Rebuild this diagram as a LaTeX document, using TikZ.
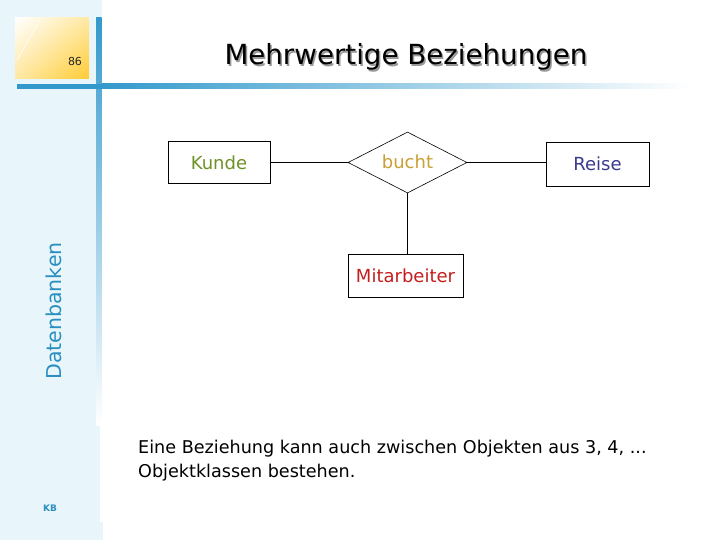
\documentclass[tikz,border=0pt]{standalone}
\usepackage{fontspec}
\setmainfont{DejaVu Sans}
\usetikzlibrary{shapes.geometric,shadings}
\definecolor{panel}{HTML}{E8F6FC}
\definecolor{barblue}{HTML}{3399CC}
\definecolor{teal}{HTML}{2A8FC0}
\definecolor{kgreen}{HTML}{6E9225}
\definecolor{bgold}{HTML}{C9A035}
\definecolor{rblue}{HTML}{3B3B8E}
\definecolor{mred}{HTML}{C41E1E}
\definecolor{gold}{HTML}{FFCC33}
\tikzset{
  entity/.style={draw=black, line width=0.8pt, minimum height=42pt, inner sep=0pt, font=\fontsize{18}{21}\selectfont},
  rel/.style={draw=black, line width=0.6pt, shape=diamond, inner sep=0pt, minimum width=119pt, minimum height=61pt, aspect=1.95, font=\fontsize{18}{21}\selectfont},
  conn/.style={line width=0.7pt, draw=black},
  body/.style={anchor=base west, inner sep=0pt, font=\fontsize{17.6}{20}\selectfont}
}
\begin{document}
\begin{tikzpicture}[x=1pt,y=-1pt]
\useasboundingbox (0,0) rectangle (720,540);
\fill[white] (0,0) rectangle (720,540);
% left panel
\fill[panel] (0,0) rectangle (100,540);
\fill[panel] (0,522) rectangle (103,540);
\fill[panel] (96,0) rectangle (102,18);
% yellow square
\shade[upper left=white, lower right=gold, upper right=gold!45!white, lower left=gold!45!white] (15,18) rectangle (89,79);
\draw[white, line width=0.6pt] (17,60) -- (40,20);
% bars
\shade[top color=barblue, bottom color=white] (96,18) rectangle (101.5,425);
\fill[barblue] (17,84) rectangle (101.5,89);
\shade[left color=barblue, right color=white] (101.5,84) rectangle (690,89);
% side texts
\node[inner sep=0pt, font=\fontsize{11}{12}\selectfont, text=black!85] (num) at (75,61) {86};
\node[inner sep=0pt, rotate=90, text=teal, font=\fontsize{20.5}{23}\selectfont] (dbk) at (54,311) {Datenbanken};
\node[inner sep=0pt, text=teal, font=\bfseries\fontsize{9}{10}\selectfont] (kb) at (50,508) {KB};
% title
\node[inner sep=0pt, text=black!40] (titleshadow) at (407.5,58.5) {\resizebox{363pt}{!}{Mehrwertige Beziehungen}};
\node[inner sep=0pt, text=black] (title) at (406,57) {\resizebox{363pt}{!}{Mehrwertige Beziehungen}};
% diagram
\node[entity, minimum width=102pt, text=kgreen] (kunde) at (219,162.5) {Kunde};
\node[rel, text=bgold] (bucht) at (407.5,162.5) {\raisebox{1.5pt}{bucht}};
\node[entity, minimum width=103pt, minimum height=44pt, text=rblue] (reise) at (597.5,164) {Reise};
\node[entity, minimum width=115pt, minimum height=43pt, text=mred] (mit) at (405.5,275.5) {Mitarbeiter};
\draw[conn] (kunde.east) -- (bucht.west);
\draw[conn] (bucht.east) -- (bucht.east -| reise.west);
\draw[conn] (bucht.south) -- (bucht.south |- mit.north);
% body text
\node[body] (l1) at (138,453) {Eine Beziehung kann auch zwischen Objekten aus 3, 4, ...};
\node[body] (l2) at (138,477) {Objektklassen bestehen.};
\end{tikzpicture}
\end{document}
